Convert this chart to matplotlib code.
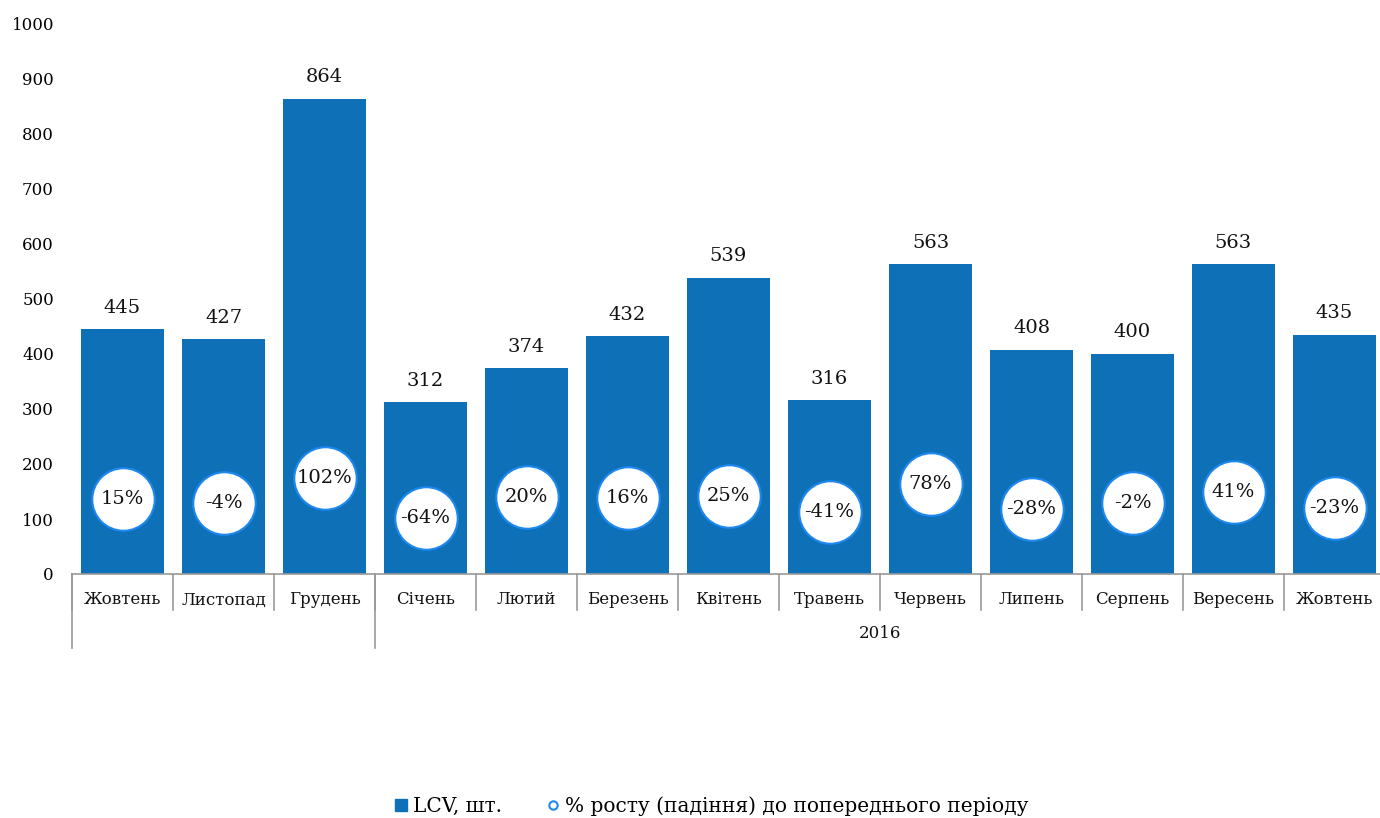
import matplotlib
matplotlib.use("Agg")
import matplotlib.pyplot as plt
import matplotlib.transforms as mtransforms
from matplotlib.lines import Line2D
import numpy as np

plt.rcParams["font.family"] = ["DejaVu Serif"]

months = ["Жовтень", "Листопад", "Грудень", "Січень", "Лютий", "Березень",
          "Квітень", "Травень", "Червень", "Липень", "Серпень", "Вересень",
          "Жовтень"]
lcv = [445, 427, 864, 312, 374, 432, 539, 316, 563, 408, 400, 563, 435]
growth = [15, -4, 102, -64, 20, 16, 25, -41, 78, -28, -2, 41, -23]
groups = [("", 0, 3), ("2016", 3, 13)]

bar_color = "#0E71B8"
ring_color = "#1E88F0"

fig = plt.figure(figsize=(13.8, 8.18), dpi=100)
ax = fig.add_axes([72 / 1380, 1 - 574 / 818, 1313 / 1380, 550 / 818])
x = np.arange(len(months))

ax.bar(x, lcv, width=0.83, color=bar_color, zorder=2)
for xi, v in zip(x, lcv):
    ax.annotate(str(v), (xi, v), xytext=(0, 9), textcoords="offset points",
                ha="center", va="bottom", fontsize=14, color="#111111")

ax.set_xlim(-0.5, len(months) - 0.5)
ax.set_ylim(0, 1000)
ax.set_yticks(np.arange(0, 1001, 100))
ax.tick_params(axis="y", length=0, pad=13, labelsize=12)
ax.set_xticks([])
for side in ["left", "right", "top"]:
    ax.spines[side].set_visible(False)
ax.spines["bottom"].set_color("#999999")
ax.spines["bottom"].set_linewidth(1.2)

# category labels and separators under the axis
trans = mtransforms.blended_transform_factory(ax.transData, ax.transAxes)
px = 1 / 550
for xi, name in zip(x, months):
    ax.text(xi, -26 * px, name, transform=trans, ha="center", va="center",
            fontsize=12, color="#111111")
for b in range(len(months) + 1):
    ax.plot([b - 0.5, b - 0.5], [0, -36 * px], transform=trans,
            color="#999999", lw=1.2, clip_on=False)
for label, start, end in groups:
    ax.plot([start - 0.5, start - 0.5], [0, -74 * px], transform=trans,
            color="#999999", lw=1.2, clip_on=False)
    ax.text((start + end - 1) / 2, -60 * px, label, transform=trans,
            ha="center", va="center", fontsize=12, color="#111111")

# growth circles on a secondary scale
ax2 = ax.twinx()
ax2.set_ylim(-300, 2000)
ax2.axis("off")
ax2.plot(x, growth, linestyle="none", marker="o", markersize=45,
         markerfacecolor="white", markeredgecolor=ring_color,
         markeredgewidth=1.5, zorder=3)
for xi, g in zip(x, growth):
    ax2.text(xi, g, f"{g}%", ha="center", va="center", fontsize=14,
             color="#111111", zorder=4)

handles = [
    Line2D([], [], linestyle="none", marker="s", markersize=8,
           markerfacecolor=bar_color, markeredgecolor=bar_color),
    Line2D([], [], linestyle="none", marker="o", markersize=6,
           markerfacecolor="white", markeredgecolor=ring_color,
           markeredgewidth=1.5),
]
fig.legend(handles, ["LCV, шт.", "% росту (падіння) до попереднього періоду"],
           loc="center", bbox_to_anchor=(712 / 1380, 1 - 806 / 818), ncol=2,
           frameon=False, fontsize=14.5, handlelength=0.5, handletextpad=0.35,
           columnspacing=2.3)

fig.savefig("out.png", dpi=100)
